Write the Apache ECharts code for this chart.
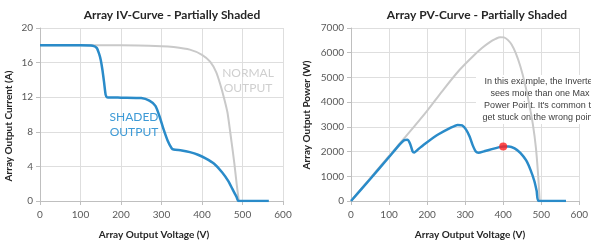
<!DOCTYPE html>
<html>
<head>
<meta charset="utf-8">
<script src="https://cdn.jsdelivr.net/npm/echarts@6/dist/echarts.min.js"></script>
<style>
  html, body { margin: 0; padding: 0; background: #fff; }
  #chart { width: 591px; height: 243px; }
</style>
</head>
<body>
<div id="chart"></div>
<script>
// IV-curve data (voltage V, current A)
const ivNormal = [[0,18],[200,18],[300,17.9],[330,17.8],[370,17.5],[400,16.9],[420,16.1],[435,14.9],[445,13.5],[455,11.8],[463,10.2],[473,6.8],[480,4.3],[486,1.8],[491,0]];
const ivShaded = [[0,18],[100,18],[130,17.95],[140,17.7],[146,17],[150,16.3],[154,15.2],[158,13.8],[162,12.3],[165,12],[200,11.95],[250,11.9],[270,11.6],[285,11],[295,9.8],[305,8.3],[315,7],[325,6.1],[330,5.95],[350,5.85],[370,5.65],[390,5.35],[410,4.9],[430,4.3],[450,3.3],[465,2.3],[475,1.4],[485,0.5],[490,0],[565,0]];

// PV-curve data (voltage V, power W)
const pvNormal = [[0,0],[100,1820],[140,2540],[200,3650],[240,4450],[285,5300],[320,5850],[345,6200],[365,6430],[380,6560],[392,6630],[402,6620],[412,6520],[422,6330],[433,5980],[445,5450],[457,4750],[468,3950],[478,3100],[486,2150],[492,1000],[496,0]];
const pvShaded = [[0,0],[50,880],[100,1780],[130,2320],[140,2460],[148,2480],[155,2330],[162,2000],[166,1960],[180,2140],[200,2380],[230,2700],[260,2950],[280,3080],[292,3060],[302,2900],[312,2600],[320,2250],[328,2000],[335,1950],[350,2010],[370,2100],[390,2180],[400,2210],[415,2210],[430,2130],[445,1950],[460,1650],[472,1250],[482,800],[488,400],[493,0],[565,0]];
const stuckPoint = [[400,2210]];

const voltTicks = [0, 600, 100];
const currentTicks = [0, 20, 4];
const powerTicks = [0, 7000, 1000];

const blue = '#2a8bc9';
const gray = '#c9c9c9';
const font = 'Lato, "Liberation Sans", sans-serif';

let chart = echarts.init(document.getElementById('chart'));

function xAx(gi) {
    return {
        type: 'value', gridIndex: gi,
        min: voltTicks[0], max: voltTicks[1], interval: voltTicks[2],
        axisLine: { lineStyle: { color: '#bfbfbf' } },
        axisTick: { show: true, length: 4, lineStyle: { color: '#bfbfbf' } },
        axisLabel: { color: '#595959', fontSize: 10, margin: 9, fontFamily: font, formatter: v => String(v) },
        splitLine: { lineStyle: { color: '#dedede' } }
    };
}
function yAx(gi, t) {
    return {
        type: 'value', gridIndex: gi,
        min: t[0], max: t[1], interval: t[2],
        axisLine: { show: true, lineStyle: { color: '#bfbfbf' } },
        axisTick: { show: true, length: 4, lineStyle: { color: '#bfbfbf' } },
        axisLabel: { color: '#595959', fontSize: 10, margin: 7, fontFamily: font, formatter: v => String(v) },
        splitLine: { lineStyle: { color: '#dedede' } }
    };
}
function txt(x, y, text, size, color, weight, rot) {
    return {
        type: 'text', x: x, y: y, rotation: rot || 0, z: 100,
        style: { text: text, fill: color, font: (weight || 'normal') + ' ' + size + 'px ' + font, align: 'center', verticalAlign: 'middle' }
    };
}

chart.setOption({
    animation: false,
    grid: [
        { left: 40, top: 28, width: 243, height: 173 },
        { left: 351, top: 28, width: 234, height: 173 }
    ],
    xAxis: [xAx(0), xAx(1)],
    yAxis: [yAx(0, currentTicks), yAx(1, powerTicks)],
    graphic: [
        txt(172, 15, 'Array IV-Curve - Partially Shaded', 12, '#262626', 'bold'),
        txt(477, 15, 'Array PV-Curve - Partially Shaded', 12, '#262626', 'bold'),
        txt(154, 235, 'Array Output Voltage (V)', 10, '#262626', 'bold'),
        txt(470, 235, 'Array Output Voltage (V)', 10, '#262626', 'bold'),
        txt(9, 126, 'Array Output Current (A)', 10, '#262626', 'bold', Math.PI / 2),
        txt(307, 115, 'Array Output Power (W)', 10, '#262626', 'bold', Math.PI / 2),
        txt(248, 73, 'NORMAL', 12, '#cfcfcf'),
        txt(248, 88, 'OUTPUT', 12, '#cfcfcf'),
        txt(134, 117, 'SHADED', 12, '#3d9ad6'),
        txt(134, 132, 'OUTPUT', 12, '#3d9ad6'),
        {
            type: 'rect', z: 1,
            shape: { x: 476, y: 75, width: 140, height: 49 },
            style: { fill: '#ffffff' }
        },
        {
            type: 'text', x: 540, y: 76, z: 1,
            style: {
                text: "In this example, the Inverter\nsees more than one Max\nPower Point. It's common to\nget stuck on the wrong point.",
                fill: '#404040', font: '9px "Liberation Sans", Arial, sans-serif', align: 'center', lineHeight: 12
            }
        }
    ],
    series: [
        { type: 'line', xAxisIndex: 0, yAxisIndex: 0, data: ivNormal, showSymbol: false, smooth: 0.2, lineStyle: { color: gray, width: 2 } },
        { type: 'line', xAxisIndex: 0, yAxisIndex: 0, data: ivShaded, showSymbol: false, smooth: 0.2, lineStyle: { color: blue, width: 2.5 } },
        { type: 'line', xAxisIndex: 1, yAxisIndex: 1, data: pvNormal, showSymbol: false, smooth: 0.3, lineStyle: { color: gray, width: 2 } },
        { type: 'line', xAxisIndex: 1, yAxisIndex: 1, data: pvShaded, showSymbol: false, smooth: 0.2, lineStyle: { color: blue, width: 2.5 } },
        { type: 'scatter', xAxisIndex: 1, yAxisIndex: 1, data: stuckPoint, symbolSize: 8, itemStyle: { color: '#ff1f1f' }, z: 5 }
    ]
});
</script>
</body>
</html>
